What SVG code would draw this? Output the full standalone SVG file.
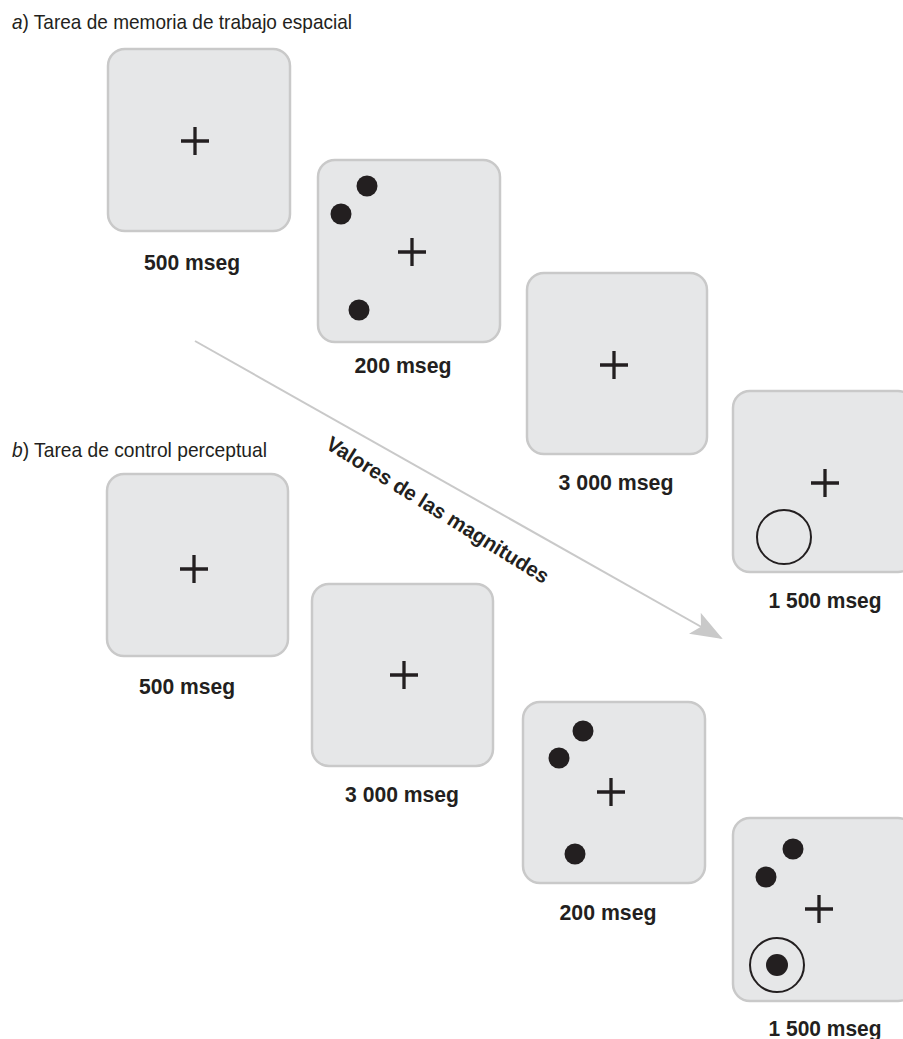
<svg xmlns="http://www.w3.org/2000/svg" width="903" height="1039" viewBox="0 0 903 1039">
<style>
.box{fill:#e6e7e8;stroke:#c9c9c9;stroke-width:2.5}
.cross{stroke:#231f20;stroke-width:3.3;fill:none}
.dot{fill:#231f20}
.ring{fill:none;stroke:#231f20;stroke-width:2}
.lbl{font-family:"Liberation Sans",Arial,sans-serif;font-weight:bold;font-size:22px;fill:#231f20;text-anchor:middle}
.ttl{font-family:"Liberation Sans",Arial,sans-serif;font-size:21px;fill:#231f20}
.arr{font-family:"Liberation Sans",Arial,sans-serif;font-weight:bold;font-size:21px;fill:#231f20;text-anchor:middle}
</style>
<defs>
<marker id="ah" markerWidth="32" markerHeight="24" refX="30" refY="12" orient="auto" markerUnits="userSpaceOnUse">
<path d="M0,0 L32,12 L0,24 L7,12 Z" fill="#c9c9c9"/>
</marker>
</defs>
<rect width="903" height="1039" fill="#ffffff"/>
<text class="ttl" x="12" y="29" textLength="340" lengthAdjust="spacingAndGlyphs"><tspan font-style="italic">a</tspan>) Tarea de memoria de trabajo espacial</text>
<text class="ttl" x="12" y="457" textLength="255" lengthAdjust="spacingAndGlyphs"><tspan font-style="italic">b</tspan>) Tarea de control perceptual</text>

<g id="connectors">
<line x1="195" y1="341" x2="721" y2="638" stroke="#c9c9c9" stroke-width="2" marker-end="url(#ah)"/>
<text class="arr" transform="translate(434,516) rotate(32)" textLength="258" lengthAdjust="spacingAndGlyphs">Valores de las magnitudes</text>
</g>

<g id="a1">
<rect class="box" x="108" y="49" width="182" height="182" rx="17"/>
<path class="cross" d="M181,141 H209 M195,127 V155"/>
<text class="lbl" x="192" y="270" textLength="96" lengthAdjust="spacingAndGlyphs">500 mseg</text>
</g>
<g id="a2">
<rect class="box" x="318" y="160" width="182" height="182" rx="17"/>
<path class="cross" d="M398,252 H426 M412,238 V266"/>
<circle class="dot" cx="367" cy="186" r="10.5"/>
<circle class="dot" cx="341" cy="214" r="10.5"/>
<circle class="dot" cx="359" cy="310" r="10.5"/>
<text class="lbl" x="403" y="373" textLength="97" lengthAdjust="spacingAndGlyphs">200 mseg</text>
</g>
<g id="a3">
<rect class="box" x="527" y="273" width="180" height="181" rx="17"/>
<path class="cross" d="M600,365 H628 M614,351 V379"/>
<text class="lbl" x="616" y="490" textLength="115" lengthAdjust="spacingAndGlyphs">3 000 mseg</text>
</g>
<g id="a4">
<rect class="box" x="733" y="391" width="182" height="181" rx="17"/>
<path class="cross" d="M811,483 H839 M825,469 V497"/>
<circle class="ring" cx="784" cy="537" r="27"/>
<text class="lbl" x="825" y="608" textLength="113" lengthAdjust="spacingAndGlyphs">1 500 mseg</text>
</g>

<g id="b1">
<rect class="box" x="107" y="474" width="181" height="182" rx="17"/>
<path class="cross" d="M180,569 H208 M194,555 V583"/>
<text class="lbl" x="187" y="694" textLength="96" lengthAdjust="spacingAndGlyphs">500 mseg</text>
</g>
<g id="b2">
<rect class="box" x="312" y="584" width="181" height="182" rx="17"/>
<path class="cross" d="M390,675 H418 M404,661 V689"/>
<text class="lbl" x="402" y="802" textLength="114" lengthAdjust="spacingAndGlyphs">3 000 mseg</text>
</g>
<g id="b3">
<rect class="box" x="523" y="702" width="182" height="181" rx="17"/>
<path class="cross" d="M597,792 H625 M611,778 V806"/>
<circle class="dot" cx="583" cy="731" r="10.5"/>
<circle class="dot" cx="559" cy="758" r="10.5"/>
<circle class="dot" cx="575" cy="854" r="10.5"/>
<text class="lbl" x="608" y="920" textLength="97" lengthAdjust="spacingAndGlyphs">200 mseg</text>
</g>
<g id="b4">
<rect class="box" x="733" y="818" width="182" height="183" rx="17"/>
<path class="cross" d="M805,909 H833 M819,895 V923"/>
<circle class="dot" cx="793" cy="849" r="10.5"/>
<circle class="dot" cx="766" cy="877" r="10.5"/>
<circle class="dot" cx="777" cy="965" r="11"/>
<circle class="ring" cx="777" cy="965" r="27"/>
<text class="lbl" x="825" y="1036" textLength="113" lengthAdjust="spacingAndGlyphs">1 500 mseg</text>
</g>
</svg>
